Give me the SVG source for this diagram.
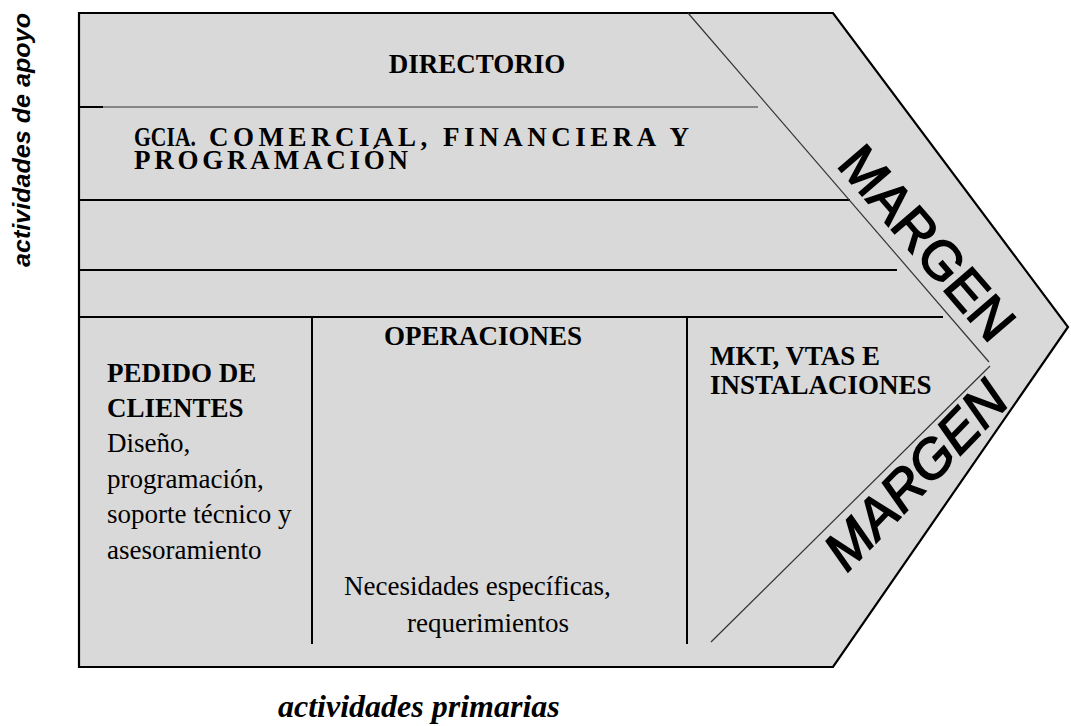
<svg xmlns="http://www.w3.org/2000/svg" width="1071" height="726" viewBox="0 0 1071 726">
<style>
.b{font-family:"Liberation Serif","Times New Roman",serif;font-weight:bold;font-size:27px;fill:#000}
.r{font-family:"Liberation Serif","Times New Roman",serif;font-size:27px;fill:#000}
.m{font-family:"Liberation Sans",Arial,sans-serif;font-size:54px;fill:#000;stroke:#000;stroke-width:1.6}
.ln{stroke:#000;stroke-width:2;fill:none}
.tn{stroke:#333;stroke-width:1.2;fill:none}
</style>
<rect width="1071" height="726" fill="#fff"/>
<g id="chain">
<polygon points="79,13 833,13 1068,327 833,667 79,667" fill="#d9d9d9" stroke="#000" stroke-width="2.2"/>
</g>
<g id="lines">
<line class="tn" x1="79" y1="107" x2="758" y2="107"/>
<line class="ln" x1="79" y1="107" x2="103" y2="107"/>
<line class="ln" x1="79" y1="200" x2="850" y2="200"/>
<line class="ln" x1="79" y1="270" x2="897" y2="270"/>
<line class="ln" x1="79" y1="317" x2="943" y2="317"/>
<line class="ln" x1="312" y1="317" x2="312" y2="644"/>
<line class="ln" x1="687" y1="317" x2="687" y2="644"/>
<line class="tn" x1="688" y1="13" x2="989" y2="362"/>
<line class="tn" x1="990" y1="366" x2="711" y2="642"/>
</g>
<g id="directorio"><text class="b" x="477" y="73" text-anchor="middle">DIRECTORIO</text></g>
<g id="gcia">
<text class="b" x="134" y="146" font-size="23" textLength="62" lengthAdjust="spacingAndGlyphs">GCIA.</text>
<text class="b" x="209" y="146" font-size="23" textLength="480" lengthAdjust="spacing">COMERCIAL, FINANCIERA  Y</text>
<text class="b" x="134" y="169" font-size="23" textLength="274" lengthAdjust="spacing">PROGRAMACIÓN</text>
</g>
<g id="pedido">
<text class="b" x="107" y="382">PEDIDO DE</text>
<text class="b" x="107" y="417">CLIENTES</text>
<text class="r" x="107" y="452">Diseño,</text>
<text class="r" x="107" y="488">programación,</text>
<text class="r" x="107" y="523">soporte técnico y</text>
<text class="r" x="107" y="559">asesoramiento</text>
</g>
<g id="operaciones">
<text class="b" x="483" y="345" text-anchor="middle" font-size="26">OPERACIONES</text>
<text class="r" x="344" y="595">Necesidades específicas,</text>
<text class="r" x="407" y="632">requerimientos</text>
</g>
<g id="mkt">
<text class="b" x="710" y="365" textLength="170" lengthAdjust="spacingAndGlyphs">MKT, VTAS E</text>
<text class="b" x="710" y="394">INSTALACIONES</text>
</g>
<g id="margen1"><text class="m" text-anchor="middle" transform="translate(913,255) rotate(49.3)">MARGEN</text></g>
<g id="margen2"><text class="m" font-style="italic" text-anchor="middle" transform="translate(929,488) rotate(-46)">MARGEN</text></g>
<g id="labels">
<text font-family="'Liberation Sans',Arial,sans-serif" font-weight="bold" font-style="italic" font-size="24" textLength="254" lengthAdjust="spacingAndGlyphs" transform="translate(30,267) rotate(-90)">actividades de apoyo</text>
<text font-family="'Liberation Serif','Times New Roman',serif" font-weight="bold" font-style="italic" font-size="32" x="278" y="717">actividades primarias</text>
</g>
</svg>
